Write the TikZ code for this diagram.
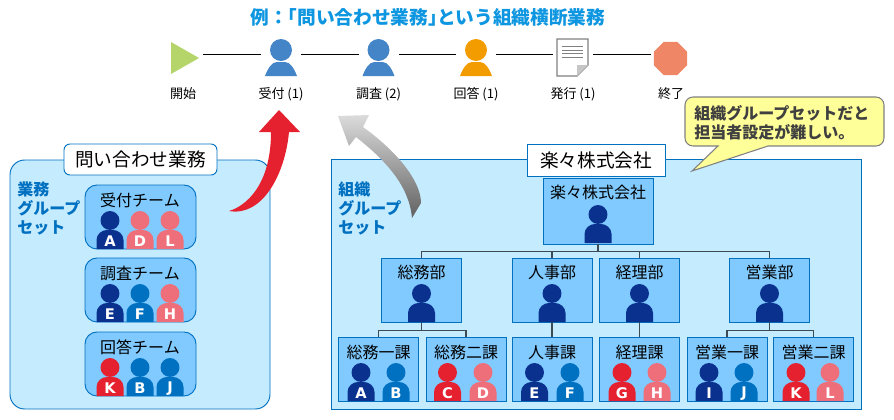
\documentclass[tikz,border=0pt]{standalone}
\usepackage{fontspec}
\setmainfont{Noto Sans CJK JP}
\newfontfamily\letterfont{DejaVu Sans}
\usetikzlibrary{shapes.geometric}
\definecolor{panelblue}{HTML}{C5EBFF}
\definecolor{boxblue}{HTML}{80CAFF}
\definecolor{edgeblue}{HTML}{0070C0}
\definecolor{titleblue}{HTML}{0E96E0}
\definecolor{navy}{HTML}{0B318F}
\definecolor{pink}{HTML}{EE6F7A}
\definecolor{strongred}{HTML}{E6212F}
\definecolor{flowblue}{HTML}{4385C7}
\definecolor{floworange}{HTML}{F39C00}
\definecolor{startgreen}{HTML}{B5D56A}
\definecolor{stopred}{HTML}{EF8666}
\definecolor{busgray}{HTML}{3C4A54}
\definecolor{notefill}{HTML}{FFFF99}
\tikzset{
  panel/.style={draw=edgeblue, fill=panelblue, line width=0.7pt},
  panelname/.style={draw=edgeblue, fill=white, line width=0.7pt, font=\fontsize{14}{16}\selectfont, inner sep=0pt},
  grouptag/.style={anchor=west, align=left, text=edgeblue, font=\bfseries\fontsize{12}{13.9}\selectfont, inner sep=0pt},
  teambox/.style={draw=edgeblue, fill=boxblue, line width=0.7pt, rounded corners=9pt, minimum width=83.25pt, minimum height=48pt, inner sep=0pt},
  orgbox/.style={draw=edgeblue, fill=boxblue, line width=0.7pt, minimum width=60pt, minimum height=48pt, inner sep=0pt},
  boxtext/.style={font=\fontsize{12}{14}\selectfont, inner sep=0pt},
  orgline/.style={draw=busgray, line width=1.2pt},
  flowstep/.style={minimum width=30pt, minimum height=30pt, inner sep=0pt, outer sep=0pt},
  flowlabel/.style={font=\fontsize{9.75}{11}\selectfont, inner sep=0pt},
  flowline/.style={draw=black, line width=0.75pt},
  staffletter/.style={text=white, inner sep=0pt, font=\letterfont\bfseries\fontsize{11}{11}\selectfont}
}
\newcommand{\staff}[5]{%
  \begin{scope}[shift={(#2,#3)}]
    \fill[#4] (0,-28.5) circle (7.1pt);
    \fill[#4] (-13.5,0) -- (-13.5,-9) .. controls (-13.5,-15) and (-8,-19) .. (-3,-19) -- (3,-19) .. controls (8,-19) and (13.5,-15) .. (13.5,-9) -- (13.5,0) -- cycle;
    \node[staffletter] (#1) at (0,-7.5) {#5};
  \end{scope}}
\newcommand{\flowperson}[2]{%
  \begin{scope}[shift={(#1,0)}]
    \fill[#2] (0,50) circle (8.25pt);
    \fill[#2] (-16,76) .. controls (-13,68) and (-9,62) .. (-4,62) -- (4,62) .. controls (9,62) and (13,68) .. (16,76) -- cycle;
  \end{scope}}
\begin{document}
\begin{tikzpicture}[x=0.75pt, y=-0.75pt]
  \useasboundingbox (0,0) rectangle (894,419);
  % Title and flow
  \node[font=\bfseries\fontsize{14}{16}\selectfont, text=titleblue, inner sep=0pt] (title) at (428,17) {例：\hspace{-.5em}「問い合わせ業務」\hspace{-.5em}という組織横断業務};
  \foreach \n/\x/\t in {start/183/開始, recv/281/受付 (1), survey/378.5/調査 (2), answer/476/回答 (1), issue/573/発行 (1), stop/671/終了}{
    \node[flowstep] (\n) at (\x,54) {};
    \node[flowlabel] (\n-label) at (\x,94) {\t};
  }
  \foreach \a/\b in {start/recv, recv/survey, survey/answer, answer/issue, issue/stop}
    \draw[flowline] (\a) -- (\b);
  \fill[startgreen] (171,42) -- (199,58) -- (171,74) -- cycle;
  \flowperson{281}{flowblue}
  \flowperson{378.5}{flowblue}
  \flowperson{476}{floworange}
  % Document and stop mark
  \draw[fill=white, draw=gray, line width=0.8pt] (557,39) -- (588,39) -- (588,65) -- (577,76) -- (557,76) -- cycle;
  \fill[gray!45] (588,65) -- (577,65) -- (577,76) -- cycle;
  \foreach \y in {46,50,53.5,57} \draw[gray, line width=0.6pt] (562,\y) -- (583,\y);
  \node[regular polygon, regular polygon sides=8, minimum size=26.8pt, inner sep=0pt, fill=stopred] (stopmark) at (670.5,58.5) {};

  % Business side
  \draw[panel, rounded corners=11pt] (10,160) rectangle (270,409);
  \node[panelname, rounded corners=4.5pt, minimum width=114.75pt, minimum height=23.25pt] (bizname) at (140.5,159.5) {問い合わせ業務};
  \node[grouptag] (biztag) at (17,208.5) {業務\\グループ\\セット};
  \foreach \n/\y/\t in {recvteam/217/受付チーム, surveyteam/290/調査チーム, answerteam/364/回答チーム}{
    \node[teambox] (\n) at (140.5,\y) {};
    \node[boxtext] (\n-text) at (140,\y-17) {\t};
  }
  \foreach \x/\b/\c/\l in {110/249/navy/A, 140/249/pink/D, 170/249/pink/L,
                           110/322/navy/E, 140/322/edgeblue/F, 170/322/pink/H,
                           110/396/strongred/K, 140/396/edgeblue/B, 170/396/edgeblue/J}{
    \staff{team-\l}{\x}{\b}{\c}{\l}
  }

  % Organization side
  \draw[panel] (331,159) rectangle (861,409);
  \node[panelname, minimum width=103.5pt, minimum height=24pt] (orgname) at (596,160) {楽々株式会社};
  \node[grouptag] (orgtag) at (338,208.5) {組織\\グループ\\セット};
  \node[orgbox, minimum width=82.5pt, minimum height=49.5pt] (root) at (598,211) {};
  \node[boxtext] (root-text) at (598,192) {楽々株式会社};
  \foreach \n/\x/\t in {soumu/421.5/総務部, jinji/552/人事部, keiri/639.5/経理部, eigyo/769.5/営業部}{
    \node[orgbox] (\n) at (\x,290) {};
    \node[boxtext] (\n-text) at (\x,272) {\t};
    \draw[orgline] (root.south) -- ++(0,7) -| (\n.north);
  }
  \foreach \n/\x/\t in {soumu1/378.5/総務一課, soumu2/466/総務二課, jinjika/552/人事課, keirika/639.5/経理課, eigyo1/727/営業一課, eigyo2/813.5/営業二課}{
    \node[orgbox] (\n) at (\x,369) {};
    \node[boxtext] (\n-text) at (\x,352) {\t};
  }
  \foreach \a/\b in {soumu/soumu1, soumu/soumu2, jinji/jinjika, keiri/keirika, eigyo/eigyo1, eigyo/eigyo2}
    \draw[orgline] (\a.south) -- ++(0,8) -| (\b.north);
  \staff{org-root}{598}{243}{navy}{}
  \foreach \x/\n in {421.5/soumu,552/jinji,639.5/keiri,769.5/eigyo}{
    \staff{head-\n}{\x}{322}{navy}{}
  }
  \foreach \x/\c/\l in {361/navy/A, 396/edgeblue/B, 447.5/strongred/C, 483/pink/D, 534.5/navy/E, 570/edgeblue/F,
                        622/strongred/G, 657/pink/H, 709/navy/I, 744/edgeblue/J, 796/strongred/K, 830/pink/L}{
    \staff{org-\l}{\x}{401}{\c}{\l}
  }

  % Block arrows
  \fill[strongred] (229,211) .. controls (246,206) and (271,185) .. (271,132) -- (259,132) -- (279,110) -- (300,132) -- (289,132)
    .. controls (285,175) and (262,217) .. (229,211) -- cycle;
  \shade[top color=gray!28, bottom color=black!62] (412,218) .. controls (409,185) and (385,160) .. (356,137) -- (349,146) -- (338,116) -- (369,115) -- (363,127)
    .. controls (395,150) and (421,180) .. (421,203) -- cycle;

  % Note
  \draw[fill=notefill, draw=gray, line width=0.8pt] (718,146) -- (692,171) -- (768,146) [rounded corners=6pt] -- (884,146) -- (884,97) -- (685,97) -- (685,146) [sharp corners] -- cycle;
  \node[anchor=west, align=left, text=black!75, inner sep=0pt, font=\bfseries\fontsize{12}{14.25}\selectfont] (note) at (694,122.5) {組織グループセットだと\\担当者設定が難しい。};
\end{tikzpicture}
\end{document}
